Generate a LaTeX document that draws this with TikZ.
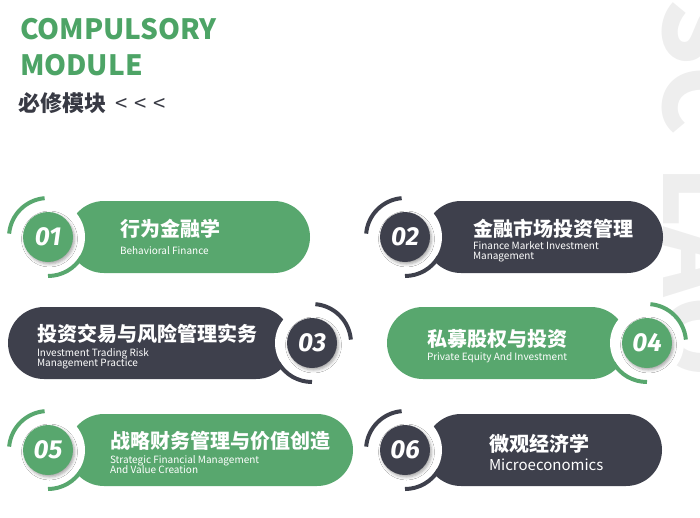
\documentclass[tikz,border=0pt]{standalone}
\usepackage{fontspec}
\setmainfont{Noto Sans CJK SC}
\newfontfamily\numfont{Fira Sans}
\usetikzlibrary{positioning, shadows.blur}

\definecolor{modgreen}{HTML}{58A76E}
\definecolor{moddark}{HTML}{3E404C}
\definecolor{titlegreen}{HTML}{4DA466}
\definecolor{markgray}{HTML}{EEEEEE}

\begin{document}
\begin{tikzpicture}[x = 1pt, y = 1pt, % one unit is one pixel
                line cap = butt
            ]

            \tikzstyle{every node}=[inner sep = 0pt, outer sep = 0pt]
            \tikzstyle{num}=[circle, minimum size = 50pt, text = white,
            font = \numfont\bfseries\itshape\fontsize{26}{26}\selectfont,
            blur shadow = {shadow xshift = 1.5pt, shadow yshift = -2pt,
            shadow blur radius = 3pt, shadow opacity = 35}]
            \tikzstyle{cn}=[anchor = base west, text = white,
            font = \bfseries\fontsize{20}{20}\selectfont]
            \tikzstyle{en}=[anchor = base west, text = white, align = left,
            font = \fontsize{10}{10.5}\selectfont]
            \tikzstyle{head}=[anchor = base west, text = titlegreen,
            font = \bfseries\fontsize{28}{28}\selectfont]
            \tikzstyle{ring}=[line width = 4pt]

            \useasboundingbox (0,0) rectangle (700,-517);

            % grey letters on the right edge
            \begin{scope}
            \clip (0,0) rectangle (700,-517);
            \node[rotate = -90, anchor = base west, text = markgray,
            font = \bfseries\fontsize{105}{105}\selectfont] (mark) at (663,2)
            {SC\hspace{30pt}LAO};
            \end{scope}

            % heading
            \node[head] (title1) at (20,-39) {COMPULSORY};
            \node[head] (title2) [below = 36pt of title1.base west, head] {MODULE};
            \node[anchor = base west, text = moddark!90!black,
            font = \fontsize{22}{22}\selectfont] (sub) at (18,-111)
            {\bfseries 必修模块\hspace{9pt}\mdseries
            <\hspace{7pt}<\hspace{7pt}<};

            % cards with the number on the left
            \foreach \i/\cx/\cy/\rx/\col in {1/48/-237/310/modgreen,
            2/405/-237/663/moddark, 5/48/-450/353/modgreen,
            6/405/-450/662/moddark} {
                \fill[\col, rounded corners = 36pt] (\cx+20,\cy+36) rectangle
                (\rx,\cy-36);
                \fill[white] (\cx,\cy) circle (37);
                \draw[ring, \col] ([shift = {(95:39)}]\cx,\cy) arc (95:175:39);
                \draw[ring, \col] ([shift = {(270:39)}]\cx,\cy) arc (270:330:39);
                \node[num, fill = \col] (n\i) at (\cx,\cy) {0\i};
            }

            % cards with the number on the right
            \foreach \i/\cx/\cy/\lx/\col in {3/312/-343/8/moddark,
            4/647/-343/387/modgreen} {
                \fill[\col, rounded corners = 36pt] (\lx,\cy+36) rectangle
                (\cx-20,\cy-36);
                \fill[white] (\cx,\cy) circle (37);
                \draw[ring, \col] ([shift = {(85:39)}]\cx,\cy) arc (85:5:39);
                \draw[ring, \col] ([shift = {(270:39)}]\cx,\cy) arc (270:210:39);
                \node[num, fill = \col] (n\i) at (\cx,\cy) {0\i};
            }

            % course names (a two-line node sits on its last line)
            \node[cn] (t1) at (120,-236) {行为金融学};
            \node[en] (e1) [below = 18pt of t1.base west, en] {Behavioral Finance};
            \node[cn] (t2) at (473,-236) {金融市场投资管理};
            \node[en] (e2) [below = 23.5pt of t2.base west, en]
            {Finance Market Investment\\Management};
            \node[cn] (t3) at (37,-341) {投资交易与风险管理实务};
            \node[en] (e3) [below = 25.5pt of t3.base west, en]
            {Investment Trading Risk\\Management Practice};
            \node[cn] (t4) at (427,-346) {私募股权与投资};
            \node[en] (e4) [below = 14pt of t4.base west, en]
            {Private Equity And Investment};
            \node[cn] (t5) at (110,-448) {战略财务管理与价值创造};
            \node[en] (e5) [below = 25.5pt of t5.base west, en]
            {Strategic Financial Management\\And Value Creation};
            \node[cn] (t6) at (489,-451) {微观经济学};
            \node[en] (e6) [below = 19pt of t6.base west, en,
            font = \fontsize{15}{15}\selectfont] {Microeconomics};

\end{tikzpicture}
\end{document}
